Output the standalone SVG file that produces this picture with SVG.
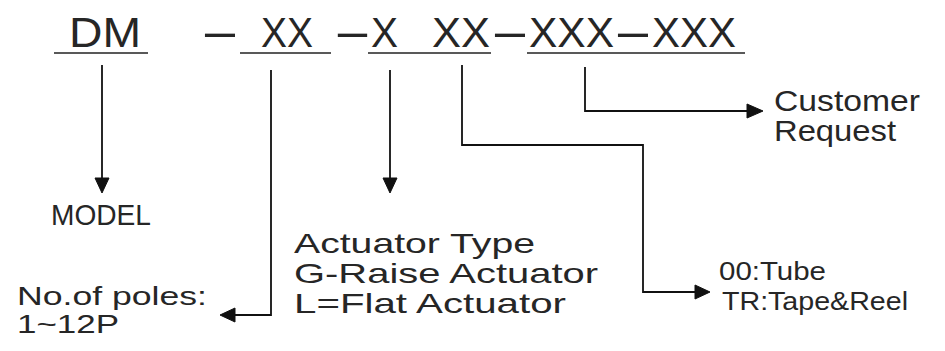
<svg xmlns="http://www.w3.org/2000/svg" width="945" height="351" viewBox="0 0 945 351">
  <style>
    .t { font-family: "Liberation Sans", Arial, sans-serif; fill: #262626; }
    .code { font-size: 42px; }
    .lbl { font-size: 29px; }
    .lbl2 { font-size: 28px; }
    .lbl3 { font-size: 25px; }
    .sm { font-size: 25px; }
    .ul { stroke: #222; stroke-width: 1.6; fill: none; }
    .c { stroke: #111; stroke-width: 1.8; fill: none; }
    .ah { fill: #111; stroke: #111; stroke-width: 1; stroke-linejoin: miter; }
  </style>
  <rect width="945" height="351" fill="#fff"/>

  <g id="code">
    <text class="t code" x="69" y="47" textLength="72" lengthAdjust="spacingAndGlyphs">DM</text>
    <text class="t code" x="199.5" y="47" textLength="41" lengthAdjust="spacingAndGlyphs">-</text>
    <text class="t code" x="261" y="47" textLength="52" lengthAdjust="spacingAndGlyphs">XX</text>
    <text class="t code" x="332.5" y="47" textLength="40" lengthAdjust="spacingAndGlyphs">-</text>
    <text class="t code" x="371" y="47" textLength="27" lengthAdjust="spacingAndGlyphs">X</text>
    <text class="t code" x="432" y="47" textLength="58" lengthAdjust="spacingAndGlyphs">XX</text>
    <text class="t code" x="489.5" y="47" textLength="41" lengthAdjust="spacingAndGlyphs">-</text>
    <text class="t code" x="529" y="47" textLength="85" lengthAdjust="spacingAndGlyphs">XXX</text>
    <text class="t code" x="612.5" y="47" textLength="41" lengthAdjust="spacingAndGlyphs">-</text>
    <text class="t code" x="652" y="47" textLength="84" lengthAdjust="spacingAndGlyphs">XXX</text>
    <line class="ul" x1="54" y1="53" x2="148" y2="53"/>
    <line class="ul" x1="240" y1="53" x2="331" y2="53"/>
    <line class="ul" x1="368" y1="53" x2="491" y2="53"/>
    <line class="ul" x1="527" y1="53" x2="745" y2="53"/>
  </g>

  <g id="model">
    <text class="t lbl" x="51" y="225" textLength="100" lengthAdjust="spacingAndGlyphs">MODEL</text>
  </g>

  <g id="poles">
    <text class="t lbl3" x="17" y="305" textLength="190" lengthAdjust="spacingAndGlyphs">No.of poles:</text>
    <text class="t lbl3" x="17" y="333" textLength="102" lengthAdjust="spacingAndGlyphs">1~12P</text>
  </g>

  <g id="actuator">
    <text class="t lbl2" x="294" y="253" textLength="241" lengthAdjust="spacingAndGlyphs">Actuator Type</text>
    <text class="t lbl2" x="294" y="283" textLength="304" lengthAdjust="spacingAndGlyphs">G-Raise Actuator</text>
    <text class="t lbl2" x="294" y="313" textLength="272" lengthAdjust="spacingAndGlyphs">L=Flat Actuator</text>
  </g>

  <g id="packing">
    <text class="t sm" x="719" y="280" textLength="107" lengthAdjust="spacingAndGlyphs">00:Tube</text>
    <text class="t sm" x="722" y="310" textLength="186" lengthAdjust="spacingAndGlyphs">TR:Tape&amp;Reel</text>
  </g>

  <g id="customer">
    <text class="t lbl" x="774" y="111" textLength="146" lengthAdjust="spacingAndGlyphs">Customer</text>
    <text class="t lbl" x="774" y="141" textLength="122" lengthAdjust="spacingAndGlyphs">Request</text>
  </g>

  <g id="connectors">
    <polyline class="c" points="102,65 102,180"/>
    <polygon class="ah" points="95,178 109,178 102,193"/>
    <polyline class="c" points="271,70 271,315 233,315"/>
    <polygon class="ah" points="235,308 235,322 220,315"/>
    <polyline class="c" points="390,70 390,180"/>
    <polygon class="ah" points="383,178 397,178 390,193"/>
    <polyline class="c" points="462,65 462,145 643,145 643,292 697,292"/>
    <polygon class="ah" points="695,285 695,299 710,292"/>
    <polyline class="c" points="585,67 585,111 749,111"/>
    <polygon class="ah" points="747,104 747,118 763,111"/>
  </g>
</svg>
